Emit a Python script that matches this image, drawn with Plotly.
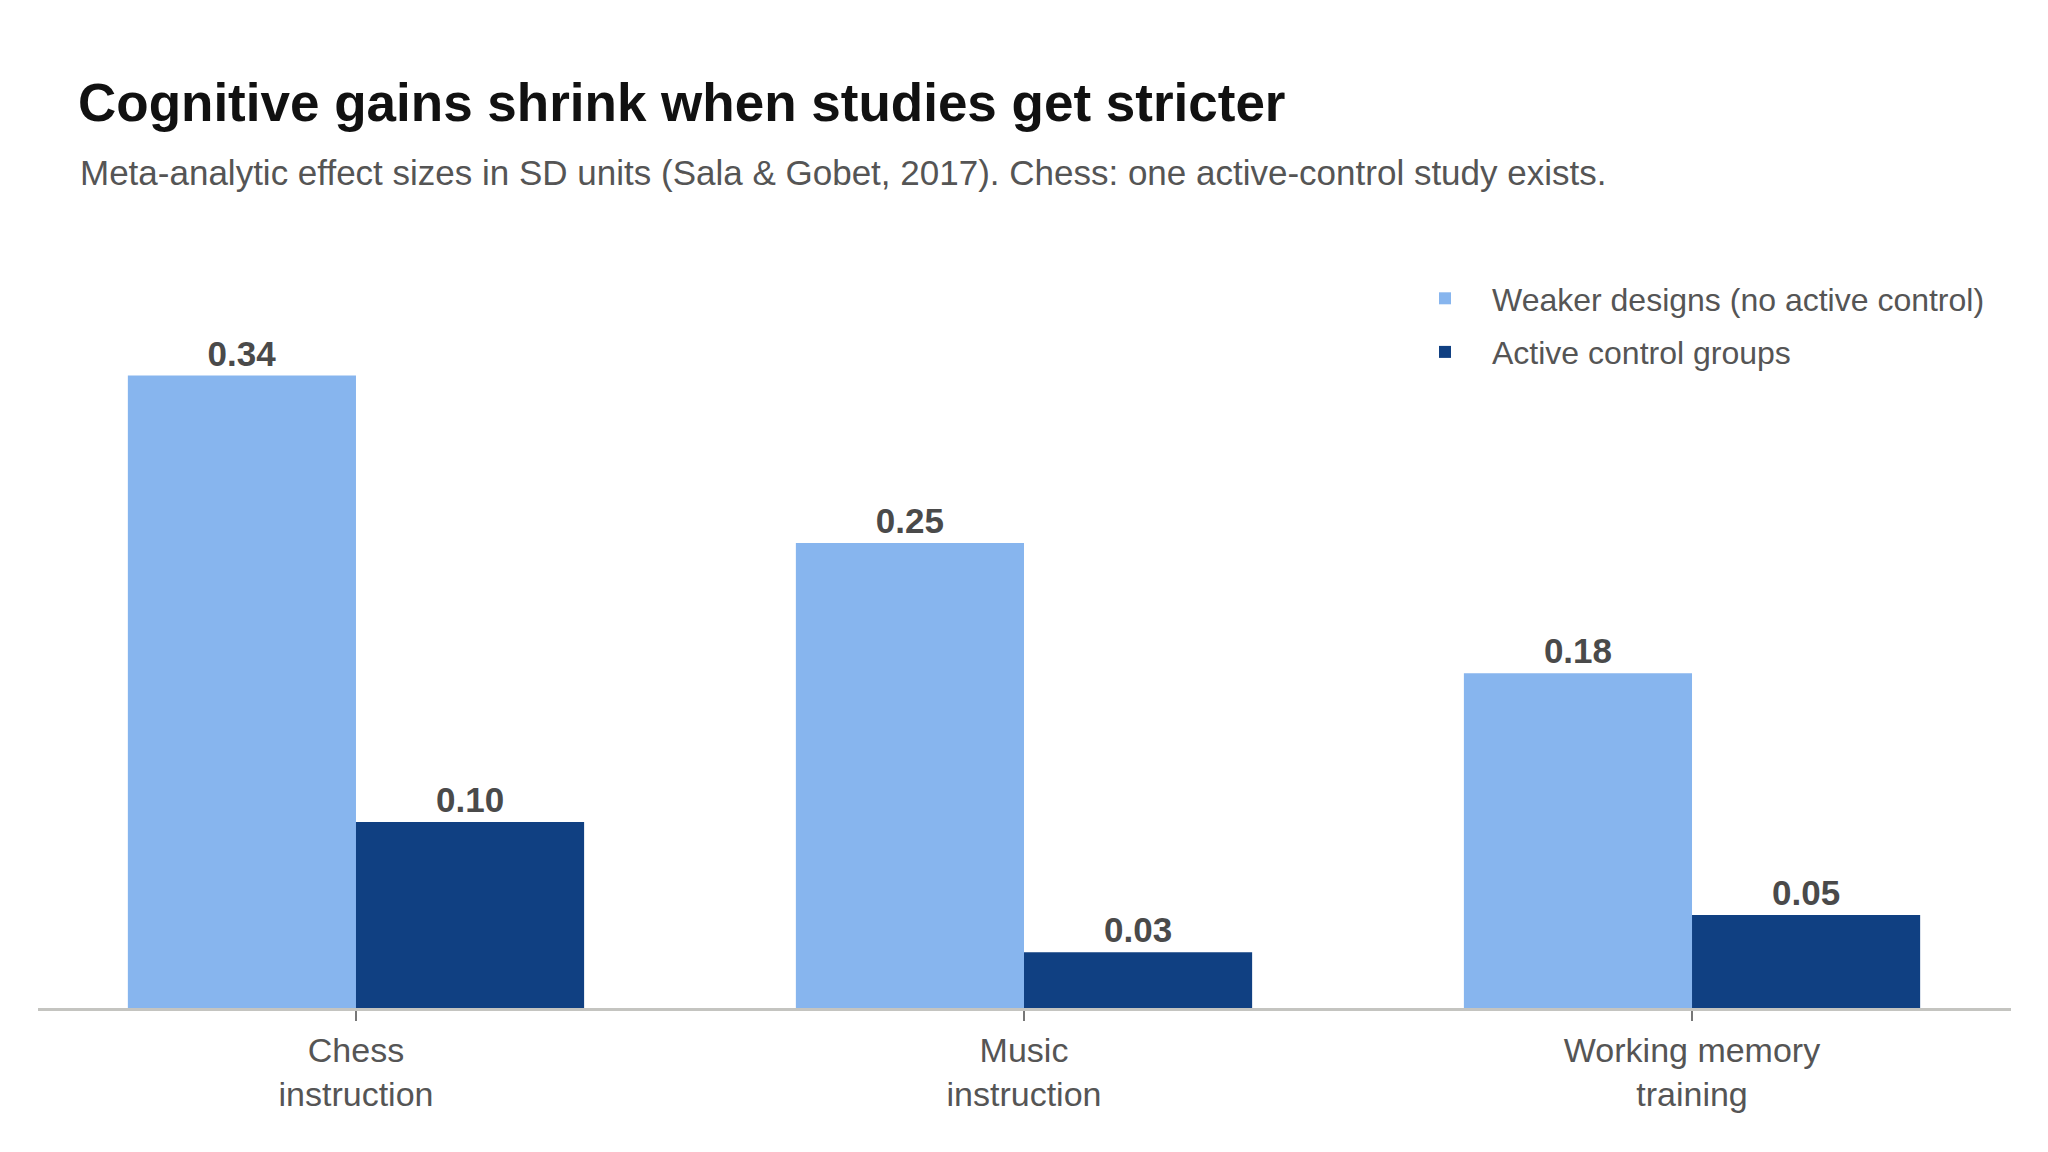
import plotly.graph_objects as go

categories = ["Chess<br>instruction", "Music<br>instruction", "Working memory<br>training"]
weaker_values = [0.34, 0.25, 0.18]
active_values = [0.10, 0.03, 0.05]
series_names = ["Weaker designs (no active control)", "Active control groups"]

TITLE = "Cognitive gains shrink when studies get stricter"
SUBTITLE = "Meta-analytic effect sizes in SD units (Sala & Gobet, 2017). Chess: one active-control study exists."

FONT = "Liberation Sans, Arial, Helvetica, sans-serif"
LIGHT = "#87B5EE"
DARK = "#104082"
LABEL_COLOR = "#4a4a4a"

# the page has an 8px body margin, so the figure is sized to fit the window
W, H = 2032, 1136
ML, MR, MT, MB = 30, 29, 256, 136
PW, PH = W - ML - MR, H - MT - MB

fig = go.Figure()
for name, vals, col in [(series_names[0], weaker_values, LIGHT), (series_names[1], active_values, DARK)]:
    fig.add_trace(go.Bar(
        x=categories, y=vals, name=name, legendgroup=name,
        marker=dict(color=col, line=dict(width=0)),
        texttemplate="%{y:.2f}", textposition="outside",
        textfont=dict(family=FONT, size=35, color=LABEL_COLOR, weight="bold"),
        cliponaxis=False,
    ))

fig.update_layout(
    width=W, height=H,
    margin=dict(l=ML, r=MR, t=MT, b=MB),
    paper_bgcolor="white", plot_bgcolor="white",
    barmode="group", bargap=0.317, bargroupgap=0,
    font=dict(family=FONT, color="#555555"),
    title=dict(
        text=f"<b>{TITLE}</b>", x=70 / W, xanchor="left", xref="container",
        y=1 - 94 / H, yanchor="middle", yref="container",
        font=dict(family=FONT, size=53, color="#111111"),
    ),
    annotations=[dict(
        text=SUBTITLE, xref="paper", yref="paper",
        x=(70 - ML) / PW, y=(H - MB - 164) / PH,
        xanchor="left", yanchor="middle", showarrow=False,
        font=dict(family=FONT, size=35, color="#555555"),
    )],
    legend=dict(
        x=(1390 - ML) / PW, y=(H - MB - 263) / PH,
        xanchor="left", yanchor="top",
        font=dict(family=FONT, size=32, color="#555555"),
        bgcolor="rgba(0,0,0,0)", traceorder="grouped", tracegroupgap=9,
        itemwidth=84,
    ),
    showlegend=True,
)
fig.update_xaxes(
    range=[-0.476, 2.4775],
    showline=True, linecolor="#C4C4C0", linewidth=3,
    ticks="outside", ticklen=10, tickwidth=2, tickcolor="#777777",
    tickfont=dict(family=FONT, size=34, color="#555555"),
    showgrid=False, zeroline=False,
)
fig.update_yaxes(
    range=[0, 0.4], visible=False, showgrid=False, zeroline=False,
)

fig.write_html("out.html")
